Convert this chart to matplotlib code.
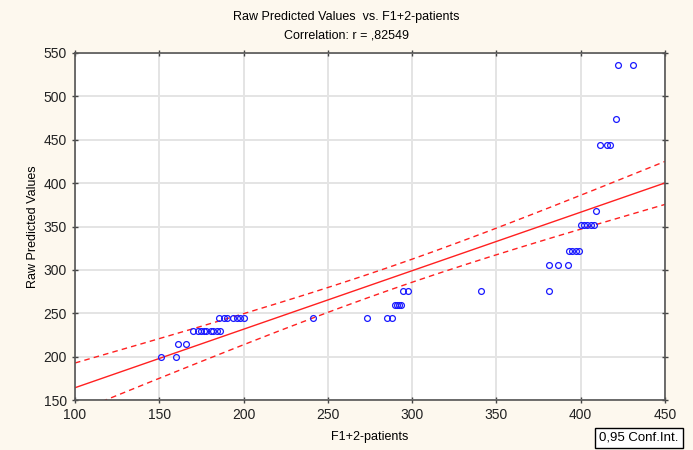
import numpy as np
import matplotlib
matplotlib.use("Agg")
import matplotlib.pyplot as plt

plt.rcParams["font.family"] = ["Liberation Sans", "DejaVu Sans"]

# valeurs
x_patients = [151, 160, 161, 166,
              170, 173, 175, 176.5, 178, 180.5, 182, 184, 186,
              185.5, 188.5, 190, 193.5, 196, 198, 200,
              241, 273.5, 285, 288,
              290, 291, 292, 293.5, 294.5, 297.5, 341,
              381, 381, 386.5, 392.5,
              393, 395, 397, 399,
              400, 402, 404, 406, 408, 409,
              411.5, 415.5, 417.5, 421, 422, 431]
y_predicted = [200, 200, 215, 215,
               230, 230, 230, 230, 230, 230, 230, 230, 230,
               245, 245, 245, 245, 245, 245, 245,
               245, 245, 245, 245,
               260, 260, 260, 260, 276, 276, 276,
               276, 306, 306, 306,
               322, 322, 322, 322,
               352, 352, 352, 352, 352, 368,
               444, 444, 444, 474, 536, 536]

x_ticks = [100, 150, 200, 250, 300, 350, 400, 450]
y_ticks = [150, 200, 250, 300, 350, 400, 450, 500, 550]

titre = "Raw Predicted Values  vs. F1+2-patients"
correlation = "Correlation: r = ,82549"

x = np.array(x_patients, dtype=float)
y = np.array(y_predicted, dtype=float)

# regression lineaire + intervalle de confiance 95%
n = len(x)
b, a = np.polyfit(x, y, 1)
res = y - (a + b * x)
s = np.sqrt(np.sum(res ** 2) / (n - 2))
sxx = np.sum((x - x.mean()) ** 2)
t = 2.01
xs = np.linspace(100, 450, 200)
ys = a + b * xs
ci = t * s * np.sqrt(1.0 / n + (xs - x.mean()) ** 2 / sxx)

fig = plt.figure(figsize=(6.93, 4.5), dpi=100, facecolor="#fdf8ee")
ax = fig.add_axes([75 / 693, 50 / 450, 590 / 693, 347 / 450])
ax.set_facecolor("white")

ax.grid(True, color="#e4e4e4", linewidth=1.4)
ax.set_axisbelow(True)

ax.plot(xs, ys, color="#ff2020", linewidth=1.0)
ax.plot(xs, ys + ci, color="#ff2020", linewidth=1.0, linestyle=(0, (4, 3)))
ax.plot(xs, ys - ci, color="#ff2020", linewidth=1.0, linestyle=(0, (4, 3)))
ax.plot(x, y, linestyle="none", marker="o", markersize=4.2,
        markerfacecolor="none", markeredgecolor="#1a1aff", markeredgewidth=0.9)

ax.set_xlim(100, 450)
ax.set_ylim(150, 550)
ax.set_xticks(x_ticks)
ax.set_yticks(y_ticks)
ax.tick_params(direction="inout", length=5, width=1, color="#444444",
               labelsize=10, labelcolor="#222222",
               top=True, right=True, labeltop=False, labelright=False)
for sp in ax.spines.values():
    sp.set_color("#555555")
    sp.set_linewidth(1.2)

ax.set_xlabel("F1+2-patients", fontsize=9, labelpad=6)
ax.set_ylabel("Raw Predicted Values", fontsize=9, labelpad=3)

fig.text(0.5, 1 - 17 / 450, titre, ha="center", va="center", fontsize=9)
fig.text(0.5, 1 - 36 / 450, correlation, ha="center", va="center", fontsize=9)

fig.text(639 / 693, 1 - 438 / 450, "0,95 Conf.Int.", ha="center", va="center",
         fontsize=9.5,
         bbox=dict(boxstyle="square,pad=0.3", facecolor="white", edgecolor="black", linewidth=1))

fig.savefig("out.png", dpi=100, facecolor=fig.get_facecolor())
